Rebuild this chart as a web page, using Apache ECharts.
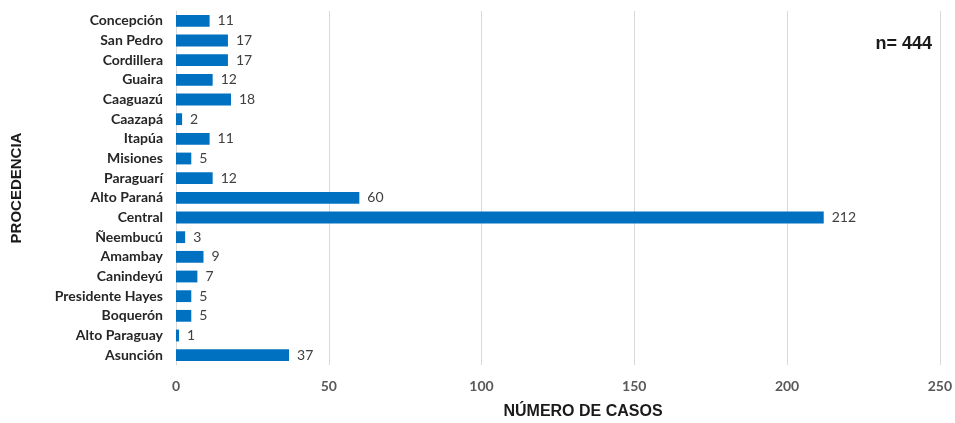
<!DOCTYPE html>
<html>
<head>
<meta charset="utf-8">
<script src="https://cdn.jsdelivr.net/npm/echarts@6/dist/echarts.min.js"></script>
<style>
  html, body { margin: 0; padding: 0; background: #fff; }
  #chart { width: 955px; height: 423px; }
</style>
</head>
<body>
<div id="chart"></div>
<script>
// Departments, listed top to bottom as drawn
const departments = [
  'Concepción', 'San Pedro', 'Cordillera', 'Guaira', 'Caaguazú', 'Caazapá',
  'Itapúa', 'Misiones', 'Paraguarí', 'Alto Paraná', 'Central', 'Ñeembucú',
  'Amambay', 'Canindeyú', 'Presidente Hayes', 'Boquerón', 'Alto Paraguay', 'Asunción'
];
const cases = [11, 17, 17, 12, 18, 2, 11, 5, 12, 60, 212, 3, 9, 7, 5, 5, 1, 37];
const xTicks = [0, 50, 100, 150, 200, 250];
const totalLabel = 'n= 444';
const xTitle = 'NÚMERO DE CASOS';
const yTitle = 'PROCEDENCIA';

const chart = echarts.init(document.getElementById('chart'), null, { renderer: 'canvas' });

const labelFont = 'Lato, "Open Sans", "DejaVu Sans", sans-serif';
const titleFont = '"Liberation Sans", Arial, sans-serif';

chart.setOption({
  animation: false,
  backgroundColor: '#ffffff',
  grid: { left: 176, right: 11, top: 11, bottom: 58, containLabel: false },
  xAxis: {
    type: 'value',
    min: xTicks[0],
    max: xTicks[xTicks.length - 1],
    interval: 50,
    axisLine: { show: false },
    axisTick: { show: false },
    splitLine: { show: true, lineStyle: { color: '#d9d9d9', width: 1 } },
    axisLabel: {
      margin: 14,
      color: '#595959',
      fontFamily: labelFont,
      fontWeight: 'bold',
      fontSize: 14
    }
  },
  yAxis: {
    type: 'category',
    data: departments,
    inverse: true,
    axisLine: { show: true, lineStyle: { color: '#d9d9d9', width: 1 } },
    axisTick: { show: false },
    axisLabel: {
      margin: 13,
      color: '#262626',
      fontFamily: labelFont,
      fontWeight: 'bold',
      fontSize: 14
    },
    name: yTitle,
    nameLocation: 'middle',
    nameRotate: 90,
    nameGap: 152,
    nameTextStyle: {
      color: '#1a1a1a',
      fontFamily: titleFont,
      fontWeight: 'bold',
      fontSize: 15
    }
  },
  graphic: [
    {
      type: 'text',
      x: 583,
      y: 412,
      style: {
        text: xTitle,
        align: 'center',
        verticalAlign: 'middle',
        fill: '#1a1a1a',
        font: 'bold 16px "Liberation Sans", Arial, sans-serif'
      }
    },
    {
      type: 'text',
      x: 932,
      y: 44,
      style: {
        text: totalLabel,
        align: 'right',
        verticalAlign: 'middle',
        fill: '#1a1a1a',
        font: 'bold 18px "Liberation Sans", Arial, sans-serif'
      }
    }
  ],
  series: [{
    type: 'bar',
    data: cases,
    barCategoryGap: '40%',
    itemStyle: { color: '#0070c0' },
    label: {
      show: true,
      position: 'right',
      distance: 8,
      color: '#404040',
      fontFamily: labelFont,
      fontSize: 14
    }
  }]
});
</script>
</body>
</html>
